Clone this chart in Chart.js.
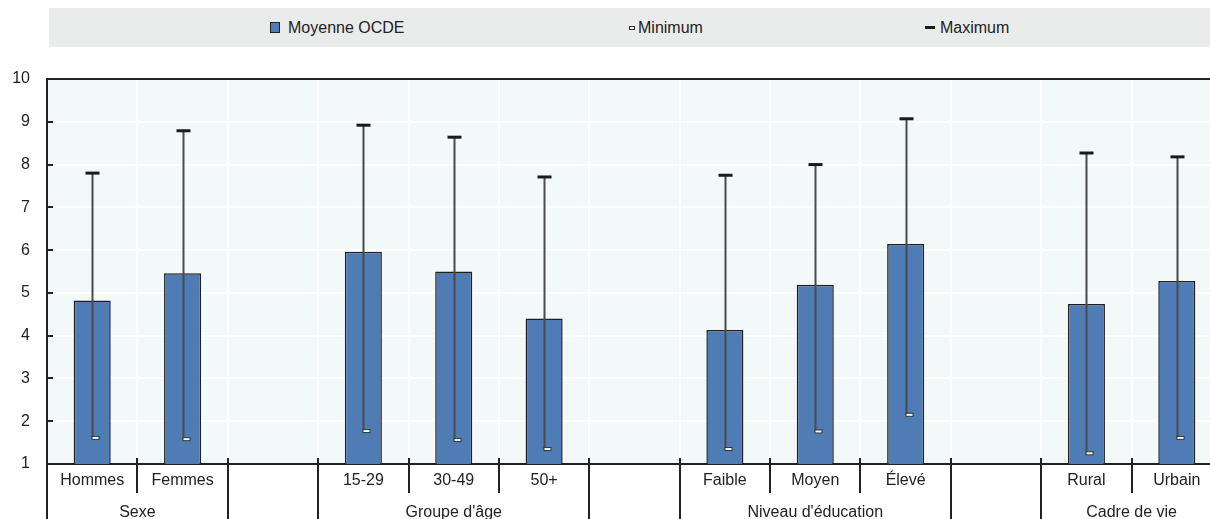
<!DOCTYPE html>
<html lang="fr">
<head>
<meta charset="utf-8">
<script src="https://cdn.jsdelivr.net/npm/chart.js@4/dist/chart.umd.min.js"></script>
<style>
  html, body { margin: 0; padding: 0; background: #fff; overflow: hidden; }
  body { width: 1210px; height: 519px; position: relative; font-family: "Liberation Sans", Arial, sans-serif; }
  #legend { position: absolute; left: 49px; top: 8px; width: 1161px; height: 39px; background: #EAEBEB; }
  .item { position: absolute; top: 0; height: 39px; line-height: 39px; font-size: 16px; color: #222; white-space: nowrap; }
  .sw { position: absolute; box-sizing: border-box; }
  #wrap { position: absolute; left: 0; top: 0; width: 1224px; height: 519px; }
</style>
</head>
<body>
<div id="legend">
  <div class="item" style="left:221px;"><span class="sw" style="left:0;top:14px;width:10px;height:11px;background:#4F7CB5;border:1px solid #222;"></span><span style="padding-left:18px;">Moyenne OCDE</span></div>
  <div class="item" style="left:580px;"><span class="sw" style="left:0;top:18px;width:6px;height:4px;background:#fff;border:1px solid #333;"></span><span style="padding-left:9px;">Minimum</span></div>
  <div class="item" style="left:876px;"><span class="sw" style="left:0;top:18px;width:10px;height:3px;background:#1a1a1a;"></span><span style="padding-left:15px;">Maximum</span></div>
</div>
<div id="wrap"><canvas id="chart" width="1224" height="519"></canvas></div>
<script>
// Categories (empty strings are spacer columns between groups)
const categories = ['Hommes', 'Femmes', '', '15-29', '30-49', '50+', '', 'Faible', 'Moyen', 'Élevé', '', 'Rural', 'Urbain'];
// OECD average per category
const means    = [4.82, 5.46, null, 5.96, 5.50, 4.40, null, 4.13, 5.19, 6.14, null, 4.74, 5.28];
// Lowest country value per category
const minimums = [1.61, 1.58, null, 1.77, 1.56, 1.35, null, 1.35, 1.76, 2.15, null, 1.25, 1.61];
// Highest country value per category
const maximums = [7.80, 8.79, null, 8.92, 8.64, 7.71, null, 7.75, 8.00, 9.07, null, 8.27, 8.18];
// Group captions and the category index range each one covers
const groupLabels = ['Sexe', "Groupe d'âge", "Niveau d'éducation", 'Cadre de vie'];
const groupStart  = [0, 3, 7, 11];
const groupEnd    = [1, 5, 9, 12];
// Y axis ticks
const yTicks = [1, 2, 3, 4, 5, 6, 7, 8, 9, 10];

const FONT = '"Liberation Sans", Arial, sans-serif';
const INK = '#222';

// Light plot background
const plotBackground = {
  id: 'plotBackground',
  beforeDraw(chart) {
    const { ctx, chartArea: a } = chart;
    ctx.save();
    ctx.fillStyle = '#F3F9F9';
    ctx.fillRect(a.left, a.top, a.right - a.left, a.bottom - a.top);
    ctx.restore();
  }
};

// Min–max whiskers drawn on top of the bars
const rangeMarks = {
  id: 'rangeMarks',
  afterDatasetsDraw(chart) {
    const { ctx } = chart;
    const x = chart.scales.x, y = chart.scales.y;
    ctx.save();
    categories.forEach((c, i) => {
      if (minimums[i] == null || maximums[i] == null) return;
      const cx = Math.round(x.getPixelForValue(i)) + 0.5;
      const yMin = y.getPixelForValue(minimums[i]);
      const yMax = y.getPixelForValue(maximums[i]);
      ctx.strokeStyle = '#4a4a4a';
      ctx.lineWidth = 2;
      ctx.beginPath();
      ctx.moveTo(cx, yMax);
      ctx.lineTo(cx, yMin);
      ctx.stroke();
      // maximum cap
      ctx.fillStyle = '#1a1a1a';
      ctx.fillRect(cx - 7, yMax - 1.5, 14, 3);
      // minimum marker
      ctx.fillStyle = '#fff';
      ctx.fillRect(cx - 0.5, yMin - 1.5, 7, 3);
      ctx.strokeStyle = '#333';
      ctx.lineWidth = 1;
      ctx.strokeRect(cx - 0.5, yMin - 1.5, 7, 3);
    });
    ctx.restore();
  }
};

// Frame, inner y ticks, category separators and group captions
const axisDecor = {
  id: 'axisDecor',
  afterDraw(chart) {
    const { ctx, chartArea: a } = chart;
    const x = chart.scales.x, y = chart.scales.y;
    const catW = (a.right - a.left) / categories.length;
    ctx.save();
    ctx.strokeStyle = INK;
    // top frame line
    ctx.lineWidth = 2;
    ctx.beginPath();
    ctx.moveTo(a.left, a.top);
    ctx.lineTo(a.right, a.top);
    ctx.stroke();
    // inward y ticks
    yTicks.forEach(v => {
      const py = Math.round(y.getPixelForValue(v));
      ctx.beginPath();
      ctx.moveTo(a.left, py);
      ctx.lineTo(a.left + 6, py);
      ctx.stroke();
    });
    // separators between categories
    const longIdx = new Set();
    groupStart.forEach(s => longIdx.add(s));
    groupEnd.forEach(e => longIdx.add(e + 1));
    ctx.lineWidth = 2;
    for (let i = 0; i <= categories.length; i++) {
      const px = Math.round(a.left + i * catW);
      ctx.beginPath();
      ctx.moveTo(px, a.bottom - 6);
      ctx.lineTo(px, longIdx.has(i) ? chart.height : a.bottom + 29);
      ctx.stroke();
    }
    // group captions
    ctx.fillStyle = INK;
    ctx.font = '16px ' + FONT;
    ctx.textAlign = 'center';
    ctx.textBaseline = 'alphabetic';
    groupLabels.forEach((g, k) => {
      const left = a.left + groupStart[k] * catW;
      const right = a.left + (groupEnd[k] + 1) * catW;
      ctx.fillText(g, (left + right) / 2, 516.5);
    });
    ctx.restore();
  }
};

new Chart(document.getElementById('chart'), {
  type: 'bar',
  data: {
    labels: categories,
    datasets: [{
      label: 'Moyenne OCDE',
      data: means,
      backgroundColor: '#4F7CB5',
      borderColor: '#1f1f1f',
      borderWidth: 1.5,
      borderSkipped: 'bottom',
      categoryPercentage: 1,
      barPercentage: 0.41
    }]
  },
  options: {
    responsive: false,
    animation: false,
    layout: { padding: { top: 79, right: 2, left: 0, bottom: 0 } },
    plugins: { legend: { display: false }, tooltip: { enabled: false } },
    scales: {
      x: {
        grid: { color: '#ffffff', lineWidth: 2, drawTicks: false, offset: true },
        border: { display: true, color: INK, width: 2 },
        ticks: { color: INK, font: { family: FONT, size: 16 }, padding: 7, autoSkip: false, maxRotation: 0 },
        afterFit(s) { s.height = 55; }
      },
      y: {
        min: 1, max: 10,
        afterBuildTicks(s) { s.ticks = yTicks.map(v => ({ value: v })); },
        grid: { color: '#ffffff', lineWidth: 2, drawTicks: false },
        border: { display: true, color: INK, width: 2 },
        ticks: { color: INK, font: { family: FONT, size: 16 }, padding: 17 },
        afterFit(s) { s.width = 47; }
      }
    }
  },
  plugins: [plotBackground, rangeMarks, axisDecor]
});
</script>
</body>
</html>
